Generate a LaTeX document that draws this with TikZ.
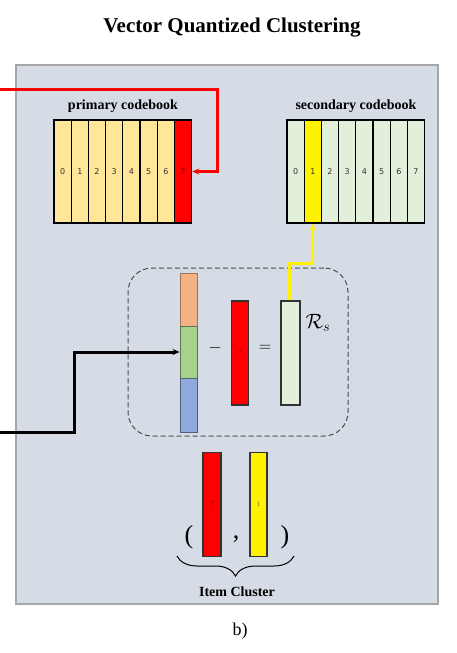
\documentclass[tikz,border=0pt]{standalone}
\usepackage{fontspec}
\setmainfont{Liberation Serif}
\newfontfamily\cellfont{DejaVu Sans}
\usetikzlibrary{arrows.meta,decorations.pathreplacing}
\definecolor{panelbg}{HTML}{D6DCE5}
\definecolor{pcell}{HTML}{FFE699}
\definecolor{scell}{HTML}{E2EFDA}
\definecolor{vorange}{HTML}{F4B183}
\definecolor{vgreen}{HTML}{A9D18E}
\definecolor{vblue}{HTML}{8FAADC}
\begin{document}
\begin{tikzpicture}[x=1pt,y=-1pt,
    cell/.style={draw=black, line width=1.2pt, minimum width=17.2pt, minimum height=103pt, inner sep=0pt, font=\cellfont\fontsize{8}{9}\selectfont, text=black!80},
    bar/.style={draw=black!80, line width=1.2pt, minimum width=17pt, minimum height=104pt, inner sep=0pt, font=\fontsize{7}{8}\selectfont},
    seg/.style={line width=0.8pt, minimum width=17pt, inner sep=0pt},
    boldlabel/.style={font=\bfseries\fontsize{14}{16}\selectfont},
    sign/.style={font=\fontsize{19}{21}\selectfont},
    paren/.style={font=\fontsize{26}{28}\selectfont},
    link/.style={line width=3pt, -{Stealth[length=7pt,width=6pt]}}]
                \useasboundingbox (0,0) rectangle (456,653);
                \node[font=\bfseries\fontsize{21}{24}\selectfont] (title) at (232,28) {Vector Quantized Clustering};
                \filldraw [fill=panelbg, draw=black!35, line width=1.6pt] (16,65) rectangle (438,604);
                \node[font=\fontsize{18}{20}\selectfont] (caption) at (240,631) {b)};

                % primary codebook
                \node[boldlabel] (ptitle) at (123,106) {primary codebook};
                \node[cell, fill=pcell] (p0) at (62.6,171.5) {0};
                \node[cell, fill=pcell] (p1) at (79.8,171.5) {1};
                \node[cell, fill=pcell] (p2) at (97,171.5) {2};
                \node[cell, fill=pcell] (p3) at (114.2,171.5) {3};
                \node[cell, fill=pcell] (p4) at (131.4,171.5) {4};
                \node[cell, fill=pcell] (p5) at (148.6,171.5) {5};
                \node[cell, fill=pcell] (p6) at (165.8,171.5) {6};
                \node[cell, fill=red, text=red!45!black] (p7) at (183,171.5) {7};

                % secondary codebook
                \node[boldlabel] (stitle) at (356,106) {secondary codebook};
                \node[cell, fill=scell] (s0) at (295.6,171.5) {0};
                \node[cell, fill=yellow] (s1) at (312.8,171.5) {1};
                \node[cell, fill=scell] (s2) at (330,171.5) {2};
                \node[cell, fill=scell] (s3) at (347.2,171.5) {3};
                \node[cell, fill=scell] (s4) at (364.4,171.5) {4};
                \node[cell, fill=scell] (s5) at (381.6,171.5) {5};
                \node[cell, fill=scell] (s6) at (398.8,171.5) {6};
                \node[cell, fill=scell] (s7) at (416,171.5) {7};

                % residual
                \node[draw=black!70, dash pattern=on 5pt off 3pt, line width=1pt, rounded corners=24pt, minimum width=220pt, minimum height=168pt] (resbox) at (238,352) {};
                \node[seg, fill=vorange, draw=vorange!65!black, minimum height=53pt] (vo) at (188.5,299.5) {};
                \node[seg, fill=vgreen, draw=vgreen!55!black, minimum height=52pt] (vg) at (188.5,352) {};
                \node[seg, fill=vblue, draw=vblue!55!black, minimum height=54pt] (vb) at (188.5,405) {};
                \node[sign] (minus) at (215,348) {$-$};
                \node[bar, fill=red, text=red!45!black] (r7) at (240,353) {7};
                \node[sign] (equal) at (265,348) {$=$};
                \node[bar, fill=scell, minimum width=19pt] (rs) at (290.5,353) {};
                \node[font=\fontsize{20}{22}\selectfont] (rslabel) at (318,323) {$\mathcal{R}_s$};

                % item cluster
                \node[bar, fill=red, text=red!45!black, minimum width=18pt] (ir) at (212,504.5) {7};
                \node[bar, fill=yellow, text=yellow!40!black] (iy) at (258.5,504.5) {1};
                \node[paren] (lpar) at (189,537) {(};
                \node[paren] (comma) at (236,539) {,};
                \node[paren] (rpar) at (285,537) {)};
                \coordinate (bl) at (177,556);
                \coordinate (br) at (294,556);
                \draw [line width=1pt, decorate, decoration={brace, mirror, amplitude=20pt}] (bl) -- (br);
                \node[boldlabel] (cluster) at (237,592) {Item Cluster};

                % connectors
                \coordinate (redin) at (0,89);
                \coordinate (redturn) at (217,89);
                \draw [red, link] (redin) -- (redturn) |- (p7.east);
                \coordinate (blkin) at (0,432);
                \coordinate (blkturn) at (74,432);
                \draw [black, link] (blkin) -- (blkturn) |- (vg.west);
                \coordinate (ybend) at (289,263);
                \draw [yellow, link] (rs.north -| ybend) -- (ybend) -| (s1.south);
            \end{tikzpicture}
\end{document}
